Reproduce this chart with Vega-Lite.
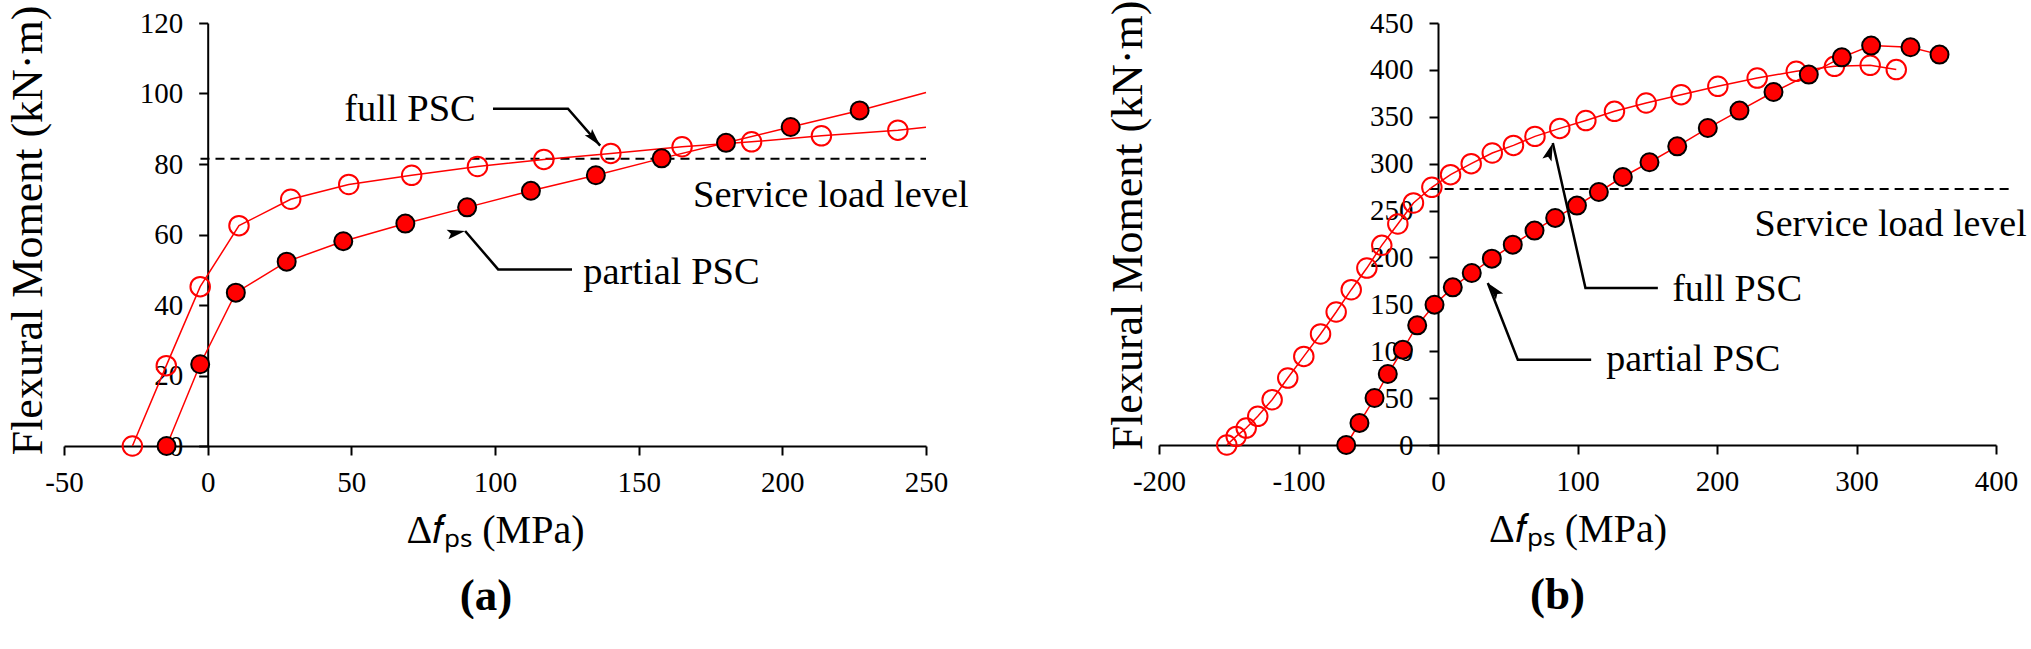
{
  "$schema": "https://vega.github.io/schema/vega-lite/v6.json",
  "background": "white",
  "padding": {"left": 6, "top": 0, "right": 0, "bottom": 0},
  "config": {
    "view": {"stroke": null},
    "font": "Liberation Serif, Times New Roman, serif",
    "axis": {
      "grid": false,
      "domainColor": "black",
      "domainWidth": 2,
      "tickColor": "black",
      "tickWidth": 2,
      "tickSize": 9,
      "labelFont": "Liberation Serif, Times New Roman, serif",
      "labelFontSize": 29,
      "labelColor": "black",
      "labelFlush": false,
      "labelOverlap": false,
      "labelExpr": "datum.value < 0 ? '-' + abs(datum.value) : '' + datum.value",
      "titleFont": "Liberation Serif, Times New Roman, serif",
      "titleFontWeight": "normal",
      "titleColor": "black"
    }
  },
  "datasets": {
    "curves": [
      {"p": "a", "s": "partial", "x": -14.3, "y": 0, "m": 1},
      {"p": "a", "s": "partial", "x": -2.6, "y": 23.2, "m": 1},
      {"p": "a", "s": "partial", "x": 9.8, "y": 43.5, "m": 1},
      {"p": "a", "s": "partial", "x": 27.5, "y": 52.3, "m": 1},
      {"p": "a", "s": "partial", "x": 47.2, "y": 58.1, "m": 1},
      {"p": "a", "s": "partial", "x": 68.8, "y": 63.1, "m": 1},
      {"p": "a", "s": "partial", "x": 90.3, "y": 67.7, "m": 1},
      {"p": "a", "s": "partial", "x": 112.5, "y": 72.4, "m": 1},
      {"p": "a", "s": "partial", "x": 135.1, "y": 76.8, "m": 1},
      {"p": "a", "s": "partial", "x": 158.0, "y": 81.6, "m": 1},
      {"p": "a", "s": "partial", "x": 180.4, "y": 86.0, "m": 1},
      {"p": "a", "s": "partial", "x": 202.9, "y": 90.5, "m": 1},
      {"p": "a", "s": "partial", "x": 226.9, "y": 95.2, "m": 1},
      {"p": "a", "s": "partial", "x": 250, "y": 100.3, "m": 0},
      {"p": "a", "s": "full", "x": -26.2, "y": 0, "m": 1},
      {"p": "a", "s": "full", "x": -14.4, "y": 22.8, "m": 1},
      {"p": "a", "s": "full", "x": -2.6, "y": 45.2, "m": 1},
      {"p": "a", "s": "full", "x": 10.9, "y": 62.5, "m": 1},
      {"p": "a", "s": "full", "x": 28.9, "y": 70.0, "m": 1},
      {"p": "a", "s": "full", "x": 49.1, "y": 74.2, "m": 1},
      {"p": "a", "s": "full", "x": 71.0, "y": 76.8, "m": 1},
      {"p": "a", "s": "full", "x": 93.9, "y": 79.3, "m": 1},
      {"p": "a", "s": "full", "x": 117.0, "y": 81.3, "m": 1},
      {"p": "a", "s": "full", "x": 140.3, "y": 83.0, "m": 1},
      {"p": "a", "s": "full", "x": 165.1, "y": 84.9, "m": 1},
      {"p": "a", "s": "full", "x": 189.3, "y": 86.3, "m": 1},
      {"p": "a", "s": "full", "x": 213.6, "y": 88.0, "m": 1},
      {"p": "a", "s": "full", "x": 240.2, "y": 89.6, "m": 1},
      {"p": "a", "s": "full", "x": 250, "y": 90.4, "m": 0},
      {"p": "b", "s": "full", "x": -151.4, "y": 0, "m": 1},
      {"p": "b", "s": "full", "x": -144.7, "y": 9.2, "m": 1},
      {"p": "b", "s": "full", "x": -137.5, "y": 18.1, "m": 1},
      {"p": "b", "s": "full", "x": -129.2, "y": 30.6, "m": 1},
      {"p": "b", "s": "full", "x": -118.9, "y": 48.3, "m": 1},
      {"p": "b", "s": "full", "x": -107.7, "y": 71.4, "m": 1},
      {"p": "b", "s": "full", "x": -96.2, "y": 94.5, "m": 1},
      {"p": "b", "s": "full", "x": -84.2, "y": 118.4, "m": 1},
      {"p": "b", "s": "full", "x": -73.0, "y": 141.8, "m": 1},
      {"p": "b", "s": "full", "x": -62.2, "y": 165.6, "m": 1},
      {"p": "b", "s": "full", "x": -51.0, "y": 188.7, "m": 1},
      {"p": "b", "s": "full", "x": -40.3, "y": 212.9, "m": 1},
      {"p": "b", "s": "full", "x": -28.8, "y": 235.7, "m": 1},
      {"p": "b", "s": "full", "x": -17.6, "y": 258.1, "m": 1},
      {"p": "b", "s": "full", "x": -4.4, "y": 274.8, "m": 1},
      {"p": "b", "s": "full", "x": 9.0, "y": 288.3, "m": 1},
      {"p": "b", "s": "full", "x": 23.8, "y": 300.0, "m": 1},
      {"p": "b", "s": "full", "x": 38.9, "y": 311.4, "m": 1},
      {"p": "b", "s": "full", "x": 54.1, "y": 319.5, "m": 1},
      {"p": "b", "s": "full", "x": 69.5, "y": 329.1, "m": 1},
      {"p": "b", "s": "full", "x": 87.3, "y": 337.6, "m": 1},
      {"p": "b", "s": "full", "x": 106.0, "y": 346.0, "m": 1},
      {"p": "b", "s": "full", "x": 126.5, "y": 355.8, "m": 1},
      {"p": "b", "s": "full", "x": 149.2, "y": 364.7, "m": 1},
      {"p": "b", "s": "full", "x": 174.3, "y": 373.6, "m": 1},
      {"p": "b", "s": "full", "x": 200.6, "y": 382.5, "m": 1},
      {"p": "b", "s": "full", "x": 228.8, "y": 391.3, "m": 1},
      {"p": "b", "s": "full", "x": 256.8, "y": 398.5, "m": 1},
      {"p": "b", "s": "full", "x": 284.2, "y": 403.8, "m": 1},
      {"p": "b", "s": "full", "x": 309.8, "y": 404.9, "m": 1},
      {"p": "b", "s": "full", "x": 328.5, "y": 400.3, "m": 1},
      {"p": "b", "s": "partial", "x": -65.8, "y": 0, "m": 1},
      {"p": "b", "s": "partial", "x": -56.3, "y": 23.5, "m": 1},
      {"p": "b", "s": "partial", "x": -45.5, "y": 50.1, "m": 1},
      {"p": "b", "s": "partial", "x": -36.0, "y": 75.7, "m": 1},
      {"p": "b", "s": "partial", "x": -25.2, "y": 101.7, "m": 1},
      {"p": "b", "s": "partial", "x": -14.9, "y": 127.6, "m": 1},
      {"p": "b", "s": "partial", "x": -2.5, "y": 149.6, "m": 1},
      {"p": "b", "s": "partial", "x": 10.6, "y": 168.1, "m": 1},
      {"p": "b", "s": "partial", "x": 24.2, "y": 183.4, "m": 1},
      {"p": "b", "s": "partial", "x": 38.6, "y": 198.7, "m": 1},
      {"p": "b", "s": "partial", "x": 53.6, "y": 213.6, "m": 1},
      {"p": "b", "s": "partial", "x": 69.2, "y": 228.6, "m": 1},
      {"p": "b", "s": "partial", "x": 84.0, "y": 242.1, "m": 1},
      {"p": "b", "s": "partial", "x": 99.6, "y": 255.3, "m": 1},
      {"p": "b", "s": "partial", "x": 115.3, "y": 269.8, "m": 1},
      {"p": "b", "s": "partial", "x": 132.5, "y": 285.8, "m": 1},
      {"p": "b", "s": "partial", "x": 151.6, "y": 301.5, "m": 1},
      {"p": "b", "s": "partial", "x": 171.5, "y": 318.5, "m": 1},
      {"p": "b", "s": "partial", "x": 193.4, "y": 338.0, "m": 1},
      {"p": "b", "s": "partial", "x": 216.1, "y": 356.6, "m": 1},
      {"p": "b", "s": "partial", "x": 240.5, "y": 376.4, "m": 1},
      {"p": "b", "s": "partial", "x": 265.8, "y": 395.0, "m": 1},
      {"p": "b", "s": "partial", "x": 289.5, "y": 413.4, "m": 1},
      {"p": "b", "s": "partial", "x": 310.5, "y": 425.9, "m": 1},
      {"p": "b", "s": "partial", "x": 338.7, "y": 424.1, "m": 1},
      {"p": "b", "s": "partial", "x": 359.5, "y": 416.3, "m": 1}
    ],
    "service": [
      {"p": "a", "x": -2.5, "x2": 250, "y": 81.5},
      {"p": "b", "x": -6, "x2": 412, "y": 273}
    ],
    "arrows": [
      {"p": "a", "arrow": "a-full", "seq": 1, "x": 99.3, "y": 95.7},
      {"p": "a", "arrow": "a-full", "seq": 2, "x": 125.4, "y": 95.7},
      {"p": "a", "arrow": "a-full", "seq": 3, "x": 136.6, "y": 85.2},
      {"p": "a", "arrow": "a-partial", "seq": 1, "x": 126.8, "y": 50.1},
      {"p": "a", "arrow": "a-partial", "seq": 2, "x": 101.1, "y": 50.1},
      {"p": "a", "arrow": "a-partial", "seq": 3, "x": 89.6, "y": 61.0},
      {"p": "b", "arrow": "b-full", "seq": 1, "x": 157.6, "y": 167.4},
      {"p": "b", "arrow": "b-full", "seq": 2, "x": 105.7, "y": 167.4},
      {"p": "b", "arrow": "b-full", "seq": 3, "x": 82.3, "y": 322.0},
      {"p": "b", "arrow": "b-partial", "seq": 1, "x": 109.8, "y": 91.0},
      {"p": "b", "arrow": "b-partial", "seq": 2, "x": 57.2, "y": 91.0},
      {"p": "b", "arrow": "b-partial", "seq": 3, "x": 35.7, "y": 172.7}
    ],
    "tips": [
      {"p": "a", "arrow": "a-full", "x": 136.6, "y": 85.2},
      {"p": "a", "arrow": "a-partial", "x": 89.6, "y": 61.0},
      {"p": "b", "arrow": "b-full", "x": 82.3, "y": 322.0},
      {"p": "b", "arrow": "b-partial", "x": 35.7, "y": 172.7}
    ],
    "notes": [
      {"p": "a", "text": "full PSC", "x": 47.5, "y": 92.3},
      {"p": "a", "text": "partial PSC", "x": 130.7, "y": 46.0},
      {"p": "a", "text": "Service load level", "x": 168.9, "y": 67.9},
      {"p": "b", "text": "full PSC", "x": 167.9, "y": 153.2},
      {"p": "b", "text": "partial PSC", "x": 120.6, "y": 78.6},
      {"p": "b", "text": "Service load level", "x": 226.9, "y": 222.5}
    ]
  },
  "spacing": 233,
  "bounds": "flush",
  "hconcat": [
    {
      "width": 862,
      "height": 423,
      "title": {"text": "(a)", "orient": "bottom", "anchor": "middle", "fontSize": 45, "fontWeight": "bold", "font": "Liberation Serif, Times New Roman, serif", "color": "black", "offset": 24, "dx": -9},
      "encoding": {
        "x": {"field": "x", "type": "quantitative", "scale": {"domain": [-50, 250], "nice": false, "zero": false},
          "axis": {"values": [-50, 0, 50, 100, 150, 200, 250], "title": "Δ𝑓ₚₛ (MPa)", "titleFontSize": 40, "titleY": 96, "titleBaseline": "alphabetic", "labelPadding": 13}},
        "y": {"field": "y", "type": "quantitative", "scale": {"domain": [0, 120], "nice": false, "zero": false},
          "axis": {"values": [0, 20, 40, 60, 80, 100, 120], "offset": -143.7, "title": "Flexural Moment (kN·m)", "titleFontSize": 44, "titleAngle": -90, "titleAlign": "center", "titleBaseline": "alphabetic", "titleX": -166, "titleY": 207, "labelPadding": 16}}
      },
      "layer": [
        {"data": {"name": "service"}, "transform": [{"filter": "datum.p === 'a'"}],
          "mark": {"type": "rule", "color": "black", "strokeWidth": 2, "strokeDash": [9, 6], "clip": false},
          "encoding": {"x2": {"field": "x2"}}},
        {"data": {"name": "curves"}, "transform": [{"filter": "datum.p === 'a'"}],
          "mark": {"type": "line", "color": "#ff0000", "strokeWidth": 1.5},
          "encoding": {"detail": {"field": "s"}}},
        {"data": {"name": "curves"}, "transform": [{"filter": "datum.p === 'a' && datum.s === 'full' && datum.m === 1"}],
          "mark": {"type": "point", "shape": "circle", "filled": false, "stroke": "#ff0000", "strokeWidth": 2, "size": 380, "opacity": 1}},
        {"data": {"name": "curves"}, "transform": [{"filter": "datum.p === 'a' && datum.s === 'partial' && datum.m === 1"}],
          "mark": {"type": "point", "shape": "circle", "filled": true, "fill": "#ff0000", "stroke": "black", "strokeWidth": 2, "size": 324, "opacity": 1}},
        {"data": {"name": "arrows"}, "transform": [{"filter": "datum.p === 'a'"}],
          "mark": {"type": "line", "color": "black", "strokeWidth": 2.5},
          "encoding": {"detail": {"field": "arrow"}, "order": {"field": "seq"}}},
        {"data": {"name": "tips"}, "transform": [{"filter": "datum.p === 'a'"}],
          "mark": {"type": "point", "shape": "M0,0 L0.35,1.3 L0,1.05 L-0.35,1.3 Z", "filled": true, "fill": "black", "strokeWidth": 0, "size": 760, "opacity": 1},
          "encoding": {"angle": {"field": "arrow", "type": "nominal", "scale": {"domain": ["a-full", "a-partial", "b-full", "b-partial"], "range": [139, -41, -13, -22.5]}, "legend": null}}},
        {"data": {"name": "notes"}, "transform": [{"filter": "datum.p === 'a'"}],
          "mark": {"type": "text", "font": "Liberation Serif, Times New Roman, serif", "fontSize": 38.5, "color": "black", "align": "left", "baseline": "alphabetic"},
          "encoding": {"text": {"field": "text"}}}
      ]
    },
    {
      "width": 837,
      "height": 422,
      "title": {"text": "(b)", "orient": "bottom", "anchor": "middle", "fontSize": 45, "fontWeight": "bold", "font": "Liberation Serif, Times New Roman, serif", "color": "black", "offset": 24, "dx": -20},
      "encoding": {
        "x": {"field": "x", "type": "quantitative", "scale": {"domain": [-200, 400], "nice": false, "zero": false},
          "axis": {"values": [-200, -100, 0, 100, 200, 300, 400], "title": "Δ𝑓ₚₛ (MPa)", "titleFontSize": 40, "titleY": 96, "titleBaseline": "alphabetic", "labelPadding": 13}},
        "y": {"field": "y", "type": "quantitative", "scale": {"domain": [0, 450], "nice": false, "zero": false},
          "axis": {"values": [0, 50, 100, 150, 200, 250, 300, 350, 400, 450], "offset": -279, "title": "Flexural Moment (kN·m)", "titleFontSize": 44, "titleAngle": -90, "titleAlign": "center", "titleBaseline": "alphabetic", "titleX": -297, "titleY": 202, "labelPadding": 16}}
      },
      "layer": [
        {"data": {"name": "service"}, "transform": [{"filter": "datum.p === 'b'"}],
          "mark": {"type": "rule", "color": "black", "strokeWidth": 2, "strokeDash": [9, 6], "clip": false},
          "encoding": {"x2": {"field": "x2"}}},
        {"data": {"name": "curves"}, "transform": [{"filter": "datum.p === 'b'"}],
          "mark": {"type": "line", "color": "#ff0000", "strokeWidth": 1.5},
          "encoding": {"detail": {"field": "s"}}},
        {"data": {"name": "curves"}, "transform": [{"filter": "datum.p === 'b' && datum.s === 'full' && datum.m === 1"}],
          "mark": {"type": "point", "shape": "circle", "filled": false, "stroke": "#ff0000", "strokeWidth": 2, "size": 380, "opacity": 1}},
        {"data": {"name": "curves"}, "transform": [{"filter": "datum.p === 'b' && datum.s === 'partial' && datum.m === 1"}],
          "mark": {"type": "point", "shape": "circle", "filled": true, "fill": "#ff0000", "stroke": "black", "strokeWidth": 2, "size": 324, "opacity": 1}},
        {"data": {"name": "arrows"}, "transform": [{"filter": "datum.p === 'b'"}],
          "mark": {"type": "line", "color": "black", "strokeWidth": 2.5},
          "encoding": {"detail": {"field": "arrow"}, "order": {"field": "seq"}}},
        {"data": {"name": "tips"}, "transform": [{"filter": "datum.p === 'b'"}],
          "mark": {"type": "point", "shape": "M0,0 L0.35,1.3 L0,1.05 L-0.35,1.3 Z", "filled": true, "fill": "black", "strokeWidth": 0, "size": 760, "opacity": 1},
          "encoding": {"angle": {"field": "arrow", "type": "nominal", "scale": {"domain": ["a-full", "a-partial", "b-full", "b-partial"], "range": [139, -41, -13, -22.5]}, "legend": null}}},
        {"data": {"name": "notes"}, "transform": [{"filter": "datum.p === 'b'"}],
          "mark": {"type": "text", "font": "Liberation Serif, Times New Roman, serif", "fontSize": 38, "color": "black", "align": "left", "baseline": "alphabetic"},
          "encoding": {"text": {"field": "text"}}}
      ]
    }
  ]
}
